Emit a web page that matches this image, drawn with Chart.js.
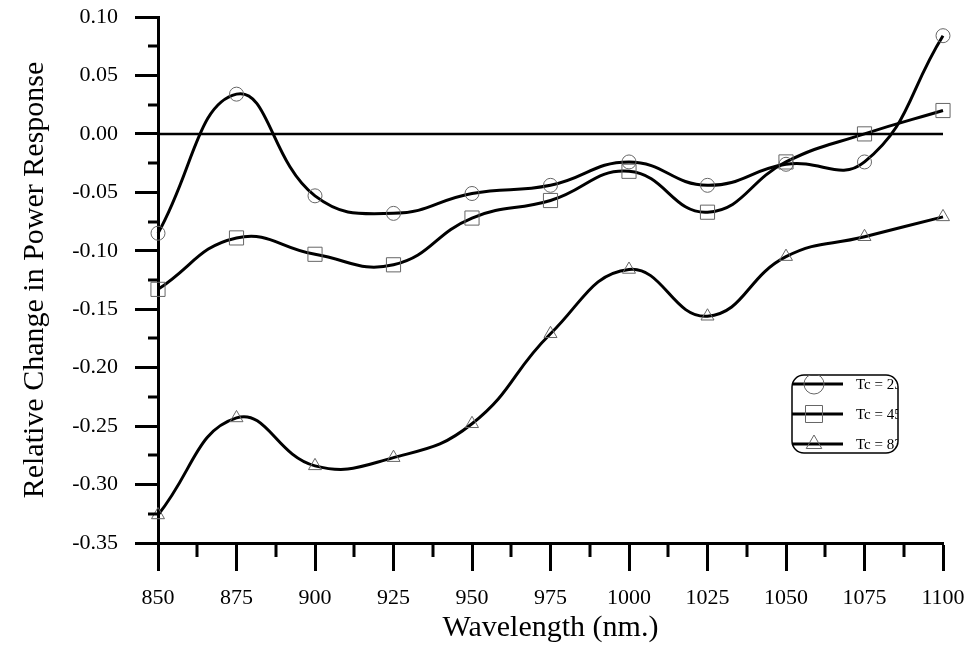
<!DOCTYPE html>
<html>
<head>
<meta charset="utf-8">
<title>Relative Change in Power Response</title>
<script src="https://cdn.jsdelivr.net/npm/chart.js@4.4.1/dist/chart.umd.min.js"></script>
<style>
	html, body { margin:0; padding:0; background:#fff; }
	#wrap { width:967px; height:646px; }
</style>
</head>
<body>
<div id="wrap"><canvas id="chart_power" width="967" height="646"></canvas></div>
<script>
// values (wavelength in nm.)
var wavelengths = [850, 875, 900, 925, 950, 975, 1000, 1025, 1050, 1075, 1100];
var tc_23 = [-0.085, 0.034, -0.053, -0.068, -0.051, -0.044, -0.024, -0.044, -0.026, -0.024, 0.084];
var tc_45 = [-0.133, -0.089, -0.103, -0.112, -0.072, -0.057, -0.032, -0.067, -0.024, 0.000, 0.020];
var tc_83 = [-0.326, -0.243, -0.284, -0.277, -0.248, -0.171, -0.116, -0.156, -0.105, -0.088, -0.071];
var zero_line = [0, 0];
var legend_labels = ['Tc = 23', 'Tc = 45', 'Tc = 83'];
var point_styles = ['circle', 'rect', 'triangle'];
var point_sizes = [7, 10, 7.5];

var serif = '"Liberation Serif", "DejaVu Serif", serif';

function to_points(values){
	return values.map(function(v, i){ return {x: wavelengths[i], y: v}; });
}

function make_dataset(i, values){
	return {
		label: legend_labels[i],
		data: to_points(values),
		borderColor: '#000',
		borderWidth: 3,
		tension: 0.45,
		pointStyle: point_styles[i],
		pointRadius: point_sizes[i],
		pointBorderColor: '#666',
		pointBorderWidth: 1,
		pointBackgroundColor: 'rgba(0,0,0,0)',
		clip: false
	};
}

// keep the plot box where it is in the original, no label padding
function no_pad(scale){
	scale.paddingTop = 0;
	scale.paddingBottom = 0;
	scale.paddingLeft = 0;
	scale.paddingRight = 0;
}

// short ticks between the labelled ones
var minor_ticks = {
	id: 'minor_ticks',
	afterDraw: function(chart){
		var ctx = chart.ctx;
		var xs = chart.scales.x, ys = chart.scales.y;
		ctx.save();
		ctx.strokeStyle = '#000';
		ctx.lineWidth = 3;
		ctx.beginPath();
		for(var v = 862.5; v < 1100; v += 25){
			var px = Math.round(xs.getPixelForValue(v));
			ctx.moveTo(px, xs.top);
			ctx.lineTo(px, xs.top + 14);
		}
		for(var k = 0; k < 9; k++){
			var py = Math.round(ys.getPixelForValue(-0.325 + k * 0.05));
			ctx.moveTo(ys.right - 10, py);
			ctx.lineTo(ys.right, py);
		}
		ctx.stroke();
		ctx.restore();
	}
};

// boxed legend sitting inside the plot, bottom right
var box_legend = {
	id: 'box_legend',
	afterDraw: function(chart){
		var ctx = chart.ctx;
		var bx = 792, by = 375, bw = 106, bh = 78, r = 12;
		ctx.save();
		ctx.fillStyle = '#fff';
		ctx.strokeStyle = '#000';
		ctx.lineWidth = 1.5;
		ctx.beginPath();
		ctx.roundRect(bx, by, bw, bh, r);
		ctx.fill();
		ctx.stroke();
		ctx.clip();
		legend_labels.forEach(function(label, i){
			var ly = by + 9 + i * 30;
			ctx.strokeStyle = '#000';
			ctx.lineWidth = 3;
			ctx.beginPath();
			ctx.moveTo(bx, ly);
			ctx.lineTo(bx + 51, ly);
			ctx.stroke();
			ctx.strokeStyle = '#666';
			ctx.fillStyle = 'rgba(0,0,0,0)';
			ctx.lineWidth = 1;
			Chart.helpers.drawPoint(ctx, {pointStyle: point_styles[i], radius: i == 0 ? 10 : (i == 1 ? 12 : 9), borderWidth: 1}, bx + 22, ly);
			ctx.fillStyle = '#000';
			ctx.font = '15px ' + serif;
			ctx.textBaseline = 'middle';
			ctx.fillText(label, bx + 64, ly + 1);
		});
		ctx.restore();
	}
};

var chart = new Chart(document.getElementById('chart_power'), {
	type: 'line',
	data: {
		datasets: [
			{
				label: 'zero',
				data: [{x: 850, y: zero_line[0]}, {x: 1100, y: zero_line[1]}],
				borderColor: '#000',
				borderWidth: 2.5,
				pointRadius: 0,
				tension: 0
			},
			make_dataset(0, tc_23),
			make_dataset(1, tc_45),
			make_dataset(2, tc_83)
		]
	},
	options: {
		responsive: false,
		devicePixelRatio: 1,
		animation: false,
		layout: { padding: { top: 17, right: 24, left: 0, bottom: 0 } },
		plugins: {
			legend: { display: false },
			tooltip: { enabled: false }
		},
		scales: {
			x: {
				type: 'linear',
				min: 850,
				max: 1100,
				afterFit: function(scale){ scale.height = 103; no_pad(scale); },
				ticks: {
					stepSize: 25,
					color: '#000',
					padding: 14,
					maxRotation: 0,
					font: { family: serif, size: 22 },
					callback: function(v){ return String(v); }
				},
				grid: { drawOnChartArea: false, tickLength: 28, tickWidth: 3, tickColor: '#000' },
				border: { color: '#000', width: 3 },
				title: {
					display: true,
					text: 'Wavelength (nm.)',
					color: '#000',
					font: { family: serif, size: 30 },
					padding: { top: 0, bottom: 0 }
				}
			},
			y: {
				min: -0.35,
				max: 0.10,
				afterFit: function(scale){ scale.width = 158; no_pad(scale); },
				ticks: {
					stepSize: 0.05,
					color: '#000',
					padding: 17,
					font: { family: serif, size: 22 },
					callback: function(v){
						if(Math.abs(v) < 1e-9) return '0.00';
						return v.toFixed(2);
					}
				},
				grid: { drawOnChartArea: false, tickLength: 23, tickWidth: 3, tickColor: '#000' },
				border: { color: '#000', width: 3 },
				title: {
					display: true,
					text: 'Relative Change in Power Response',
					color: '#000',
					font: { family: serif, size: 30 },
					padding: { top: 17, bottom: 0 }
				}
			}
		}
	},
	plugins: [minor_ticks, box_legend]
});
</script>
</body>
</html>
